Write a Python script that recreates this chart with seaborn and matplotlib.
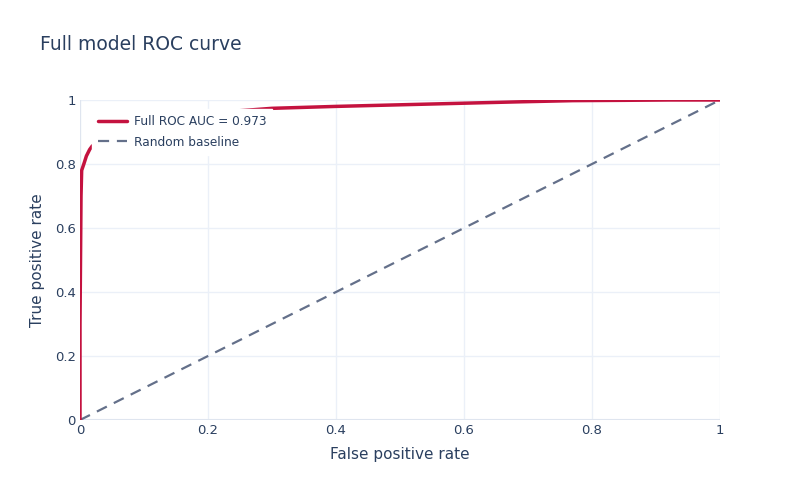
import seaborn as sns
import matplotlib.pyplot as plt
import pandas as pd

# ROC points
fpr = [0.0, 0.0, 0.0016, 0.0026, 0.006, 0.010, 0.015, 0.019, 0.04, 0.08, 0.15, 0.22, 0.30,
       0.40, 0.50, 0.58, 0.68, 0.77, 0.85, 0.92, 1.0]
tpr = [0.0, 0.30, 0.70, 0.78, 0.80, 0.825, 0.845, 0.856, 0.885, 0.915, 0.945, 0.962, 0.974,
       0.980, 0.985, 0.989, 0.994, 0.998, 0.999, 1.0, 1.0]
base_x = [0.0, 1.0]
base_y = [0.0, 1.0]

roc_label = "Full ROC AUC = 0.973"
base_label = "Random baseline"

txt = "#2a3f5f"
grid = "#ebf0f8"

sns.set_theme(style="white")
plt.rcParams['font.family'] = ['DejaVu Sans']

fig = plt.figure(figsize=(8, 5), dpi=100)
ax = fig.add_axes([0.1, 0.16, 0.8, 0.64])

roc = pd.DataFrame({"fpr": fpr, "tpr": tpr})
base = pd.DataFrame({"fpr": base_x, "tpr": base_y})

sns.lineplot(data=base, x="fpr", y="tpr", ax=ax, color="#64708a", lw=1.6,
             linestyle=(0, (5, 3.5)), label=base_label, zorder=3)
sns.lineplot(data=roc, x="fpr", y="tpr", ax=ax, color="#c4123f", lw=2.5,
             label=roc_label, zorder=4, sort=False, estimator=None)

ax.set_xlim(0, 1)
ax.set_ylim(0, 1)
ticks = [0, 0.2, 0.4, 0.6, 0.8, 1]
ticklabels = ["0", "0.2", "0.4", "0.6", "0.8", "1"]
ax.set_xticks(ticks)
ax.set_xticklabels(ticklabels)
ax.set_yticks(ticks)
ax.set_yticklabels(ticklabels)
ax.grid(True, color=grid, lw=1)
ax.set_axisbelow(True)
for s in ax.spines.values():
    s.set_visible(False)
ax.axhline(0, color="#dfe5ef", lw=1.5, zorder=1)
ax.axvline(0, color="#dfe5ef", lw=1.5, zorder=1)
ax.tick_params(colors=txt, labelsize=9.5, length=0, pad=3)

ax.set_xlabel("False positive rate", color=txt, fontsize=11, labelpad=7)
ax.set_ylabel("True positive rate", color=txt, fontsize=11, labelpad=7)
fig.text(0.05, 0.91, "Full model ROC curve", color=txt, fontsize=13.5, va="center")

h, l = ax.get_legend_handles_labels()
leg = ax.legend(h[::-1], l[::-1], loc="upper left", bbox_to_anchor=(0.01, 0.99),
                frameon=True, fancybox=False, framealpha=1, edgecolor="white",
                fontsize=8.7, handlelength=2.4, handletextpad=0.5,
                labelspacing=0.6, borderpad=0.5)
for t in leg.get_texts():
    t.set_color(txt)
leg.set_zorder(10)

fig.savefig("out.png", dpi=100, facecolor="white")
